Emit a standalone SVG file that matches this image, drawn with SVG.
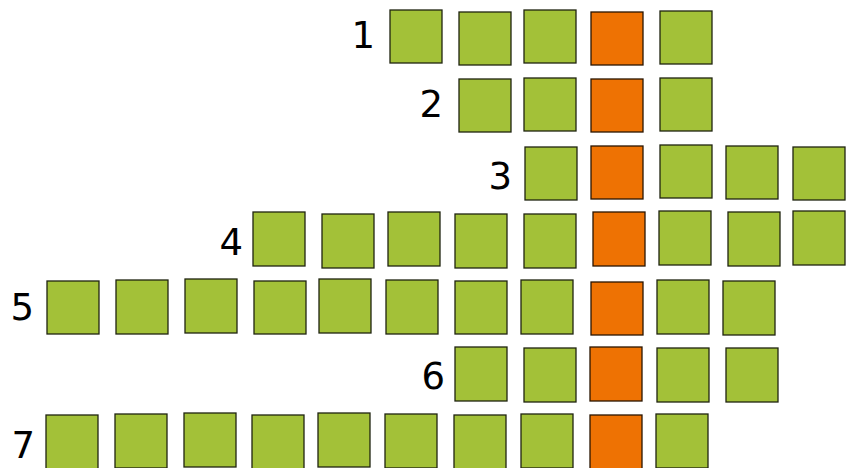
<svg xmlns="http://www.w3.org/2000/svg" width="855" height="468" viewBox="0 0 855 468">
<style>
.g{fill:#A3C138;stroke:#1f2410;stroke-width:1.3}
.o{fill:#EE7203;stroke:#2a1400;stroke-width:1.3}
.l{font-family:"DejaVu Sans","Liberation Sans",sans-serif;font-size:37px;fill:#000;text-anchor:end}
</style>
<rect width="855" height="468" fill="#fff"/>
<g id="row1">
<text class="l" x="375" y="48">1</text>
<rect class="g" x="390" y="10" width="52" height="53"/>
<rect class="g" x="459" y="12" width="52" height="53"/>
<rect class="g" x="524" y="10" width="52" height="53"/>
<rect class="o" x="591" y="12" width="52" height="53"/>
<rect class="g" x="660" y="11" width="52" height="53"/>
</g>
<g id="row2">
<text class="l" x="443" y="117">2</text>
<rect class="g" x="459" y="79" width="52" height="53"/>
<rect class="g" x="524" y="78" width="52" height="53"/>
<rect class="o" x="591" y="79" width="52" height="53"/>
<rect class="g" x="660" y="78" width="52" height="53"/>
</g>
<g id="row3">
<text class="l" x="512" y="189">3</text>
<rect class="g" x="525" y="147" width="52" height="53"/>
<rect class="o" x="591" y="146" width="52" height="53"/>
<rect class="g" x="660" y="145" width="52" height="53"/>
<rect class="g" x="726" y="146" width="52" height="53"/>
<rect class="g" x="793" y="147" width="52" height="53"/>
</g>
<g id="row4">
<text class="l" x="243" y="255">4</text>
<rect class="g" x="253" y="212" width="52" height="54"/>
<rect class="g" x="322" y="214" width="52" height="54"/>
<rect class="g" x="388" y="212" width="52" height="54"/>
<rect class="g" x="455" y="214" width="52" height="54"/>
<rect class="g" x="524" y="214" width="52" height="54"/>
<rect class="o" x="593" y="212" width="52" height="54"/>
<rect class="g" x="659" y="211" width="52" height="54"/>
<rect class="g" x="728" y="212" width="52" height="54"/>
<rect class="g" x="793" y="211" width="52" height="54"/>
</g>
<g id="row5">
<text class="l" x="34" y="320">5</text>
<rect class="g" x="47" y="281" width="52" height="53"/>
<rect class="g" x="116" y="280" width="52" height="54"/>
<rect class="g" x="185" y="279" width="52" height="54"/>
<rect class="g" x="254" y="281" width="52" height="53"/>
<rect class="g" x="319" y="279" width="52" height="54"/>
<rect class="g" x="386" y="280" width="52" height="54"/>
<rect class="g" x="455" y="281" width="52" height="53"/>
<rect class="g" x="521" y="280" width="52" height="54"/>
<rect class="o" x="591" y="282" width="52" height="53"/>
<rect class="g" x="657" y="280" width="52" height="54"/>
<rect class="g" x="723" y="281" width="52" height="54"/>
</g>
<g id="row6">
<text class="l" x="445" y="389">6</text>
<rect class="g" x="455" y="347" width="52" height="54"/>
<rect class="g" x="524" y="348" width="52" height="54"/>
<rect class="o" x="590" y="347" width="52" height="54"/>
<rect class="g" x="657" y="348" width="52" height="54"/>
<rect class="g" x="726" y="348" width="52" height="54"/>
</g>
<g id="row7">
<text class="l" x="35" y="458">7</text>
<rect class="g" x="46" y="415" width="52" height="54"/>
<rect class="g" x="115" y="414" width="52" height="54"/>
<rect class="g" x="184" y="413" width="52" height="54"/>
<rect class="g" x="252" y="415" width="52" height="54"/>
<rect class="g" x="318" y="413" width="52" height="54"/>
<rect class="g" x="385" y="414" width="52" height="54"/>
<rect class="g" x="454" y="415" width="52" height="54"/>
<rect class="g" x="521" y="414" width="52" height="54"/>
<rect class="o" x="590" y="415" width="52" height="54"/>
<rect class="g" x="656" y="414" width="52" height="54"/>
</g>
</svg>
